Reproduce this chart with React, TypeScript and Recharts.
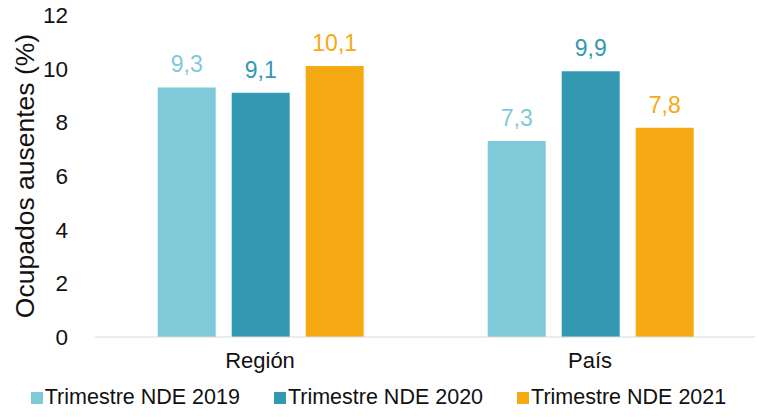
import { Bar, BarChart, LabelList, Legend, XAxis, YAxis } from "recharts";

const categories = ["Región", "País"];
const serie2019 = [9.3, 7.3];
const serie2020 = [9.1, 9.9];
const serie2021 = [10.1, 7.8];
const yTicks = [0, 2, 4, 6, 8, 10, 12];

const SERIES = [
  { key: "t2019", name: "Trimestre NDE 2019", color: "#7fcad8", values: serie2019 },
  { key: "t2020", name: "Trimestre NDE 2020", color: "#3399b3", values: serie2020 },
  { key: "t2021", name: "Trimestre NDE 2021", color: "#f5a913", values: serie2021 },
];

const data = categories.map((cat, i) => ({
  name: cat,
  t2019: serie2019[i],
  t2020: serie2020[i],
  t2021: serie2021[i],
}));

// coma decimal como en el original
const fmt = (v: unknown) => Number(v).toFixed(1).replace(".", ",");

export default function App() {
  return (
    <div style={{ position: "absolute", left: 0, top: 0, fontFamily: "Liberation Sans, Arial, sans-serif" }}>
      <BarChart
        width={758}
        height={418}
        data={data}
        margin={{ top: 15, right: 3, bottom: 8, left: 0 }}
        barGap={16}
        barCategoryGap="19%"
      >
        <XAxis
          dataKey="name"
          tickLine={false}
          axisLine={{ stroke: "#d9d9d9" }}
          tick={{ fontSize: 22, fill: "#111", fontFamily: "Liberation Sans" }}
          tickMargin={9}
          height={48}
        />
        <YAxis
          domain={[0, 12]}
          ticks={yTicks}
          width={95}
          axisLine={false}
          tickLine={false}
          tickMargin={21}
          tick={{ fontSize: 22.5, fill: "#111", fontFamily: "Liberation Sans" }}
          label={{
            value: "Ocupados ausentes (%)",
            angle: -90,
            position: "insideLeft",
            offset: 25,
            style: { textAnchor: "middle", fontSize: 26.5, fill: "#111", fontFamily: "Liberation Sans" },
          }}
        />
        <Legend
          verticalAlign="bottom"
          iconType="square"
          iconSize={12}
          wrapperStyle={{ fontSize: 21.5, color: "#111", fontFamily: "Liberation Sans", paddingLeft: 18 }}
          formatter={(value) => <span style={{ color: "#111", marginRight: 24, marginLeft: -2 }}>{value}</span>}
        />
        {SERIES.map((s) => (
          <Bar key={s.key} dataKey={s.key} name={s.name} fill={s.color} isAnimationActive={false}>
            <LabelList
              dataKey={s.key}
              position="top"
              offset={15}
              formatter={fmt}
              style={{ fontSize: 23, fill: s.color, fontFamily: "Liberation Sans" }}
            />
          </Bar>
        ))}
      </BarChart>
    </div>
  );
}
